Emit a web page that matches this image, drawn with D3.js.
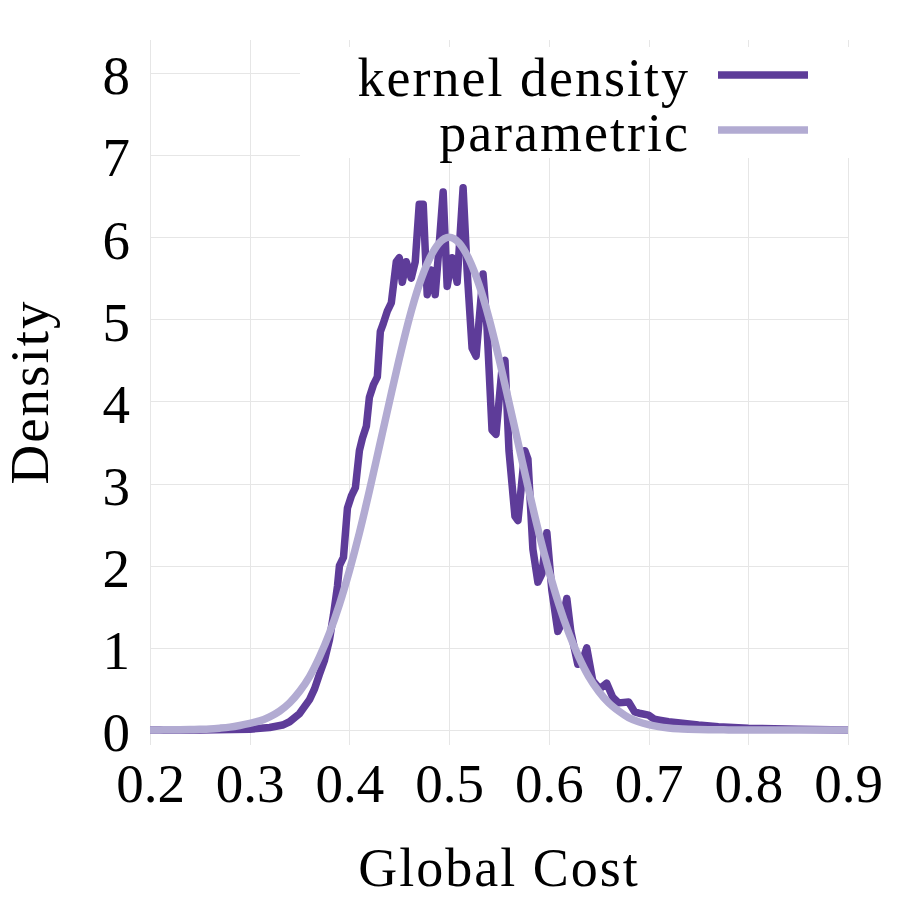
<!DOCTYPE html>
<html lang="en">
  <head>
    <meta charset="utf-8" />
    <title>Global Cost density</title>
    <script src="https://d3js.org/d3.v7.min.js"></script>
    <style>
     body {
       margin: 0;
       background: white;
     }
     text {
       font-family: "Liberation Serif", "DejaVu Serif", serif;
       fill: black;
     }
    </style>
  </head>
  <body>
    <div id="chart"></div>

    <script>

     // kernel density estimate
     var kdeX = [0.20, 0.25, 0.30, 0.32, 0.333, 0.34, 0.35, 0.36, 0.365, 0.37, 0.375, 0.38, 0.384, 0.388, 0.39, 0.394,
                 0.398, 0.402, 0.406, 0.41, 0.413, 0.417, 0.42, 0.424, 0.428, 0.431, 0.434, 0.438, 0.442, 0.447,
                 0.450, 0.453, 0.457, 0.462, 0.466, 0.470, 0.474, 0.478, 0.482, 0.486, 0.490, 0.494, 0.498, 0.503,
                 0.508, 0.514, 0.518, 0.523, 0.527, 0.534, 0.538, 0.543, 0.547, 0.553, 0.556, 0.560, 0.566, 0.569,
                 0.576, 0.579, 0.584, 0.589, 0.593, 0.598, 0.603, 0.609, 0.613, 0.618, 0.622, 0.629, 0.634, 0.638,
                 0.644, 0.651, 0.658, 0.664, 0.670, 0.680, 0.686, 0.692, 0.700, 0.706, 0.711, 0.720, 0.750, 0.770, 0.800, 0.850, 0.900];
     var kdeY = [0.00, 0.00, 0.01, 0.03, 0.06, 0.10, 0.20, 0.37, 0.50, 0.68, 0.85, 1.10, 1.40, 1.75, 2.00, 2.10,
                 2.70, 2.85, 2.95, 3.40, 3.55, 3.70, 4.05, 4.20, 4.30, 4.85, 4.95, 5.10, 5.20, 5.70,
                 5.75, 5.45, 5.70, 5.50, 5.70, 6.40, 6.40, 5.30, 5.60, 5.30, 5.90, 6.55, 5.40, 5.75,
                 5.45, 6.60, 5.60, 4.65, 4.55, 5.55, 4.90, 3.65, 3.60, 4.40, 4.50, 3.40, 2.60, 2.55,
                 3.40, 3.30, 2.20, 1.80, 1.90, 2.40, 1.70, 1.20, 1.30, 1.60, 1.20, 0.80, 0.85, 1.00,
                 0.60, 0.50, 0.57, 0.40, 0.33, 0.34, 0.22, 0.20, 0.18, 0.13, 0.12, 0.10, 0.06, 0.04, 0.02, 0.01, 0.00];

     // fitted parametric density
     var paramX = [0.20, 0.21, 0.22, 0.23, 0.24, 0.25, 0.26, 0.27, 0.28, 0.29, 0.30, 0.31, 0.32, 0.33, 0.34,
                   0.35, 0.36, 0.37, 0.38, 0.39, 0.40, 0.41, 0.42, 0.43, 0.44, 0.45, 0.46, 0.47, 0.48, 0.49,
                   0.50, 0.51, 0.52, 0.53, 0.54, 0.55, 0.56, 0.57, 0.58, 0.59, 0.60, 0.61, 0.62, 0.63, 0.64,
                   0.65, 0.66, 0.67, 0.68, 0.69, 0.70, 0.71, 0.72, 0.73, 0.74, 0.75, 0.76, 0.77, 0.78, 0.79,
                   0.80, 0.82, 0.84, 0.86, 0.88, 0.90];
     var paramY = [0.000, 0.001, 0.002, 0.004, 0.006, 0.008, 0.012, 0.022, 0.035, 0.055, 0.080, 0.110, 0.160, 0.230, 0.330,
                   0.470, 0.650, 0.890, 1.180, 1.530, 1.940, 2.400, 2.910, 3.450, 3.990, 4.520, 5.010, 5.420, 5.730, 5.930,
                   6.000, 5.930, 5.730, 5.420, 5.010, 4.520, 3.990, 3.450, 2.910, 2.400, 1.940, 1.530, 1.180, 0.890, 0.650,
                   0.470, 0.330, 0.230, 0.150, 0.100, 0.065, 0.041, 0.025, 0.015, 0.009, 0.005, 0.003, 0.002, 0.001, 0.000,
                   0.000, 0.000, 0.000, 0.000, 0.000, 0.000];

     var xTicks = [0.2, 0.3, 0.4, 0.5, 0.6, 0.7, 0.8, 0.9];
     var yTicks = [0, 1, 2, 3, 4, 5, 6, 7, 8];

     var series = [
       {name: "kernel density", xs: kdeX, ys: kdeY, color: "#5e3c99", curve: d3.curveLinear},
       {name: "parametric", xs: paramX, ys: paramY, color: "#b2abd2", curve: d3.curveMonotoneX}
     ];

     var width = 900, height = 900;
     var plotLeft = 150, plotRight = 848, plotTop = 40, plotBottom = 745;

     var x = d3.scaleLinear().domain([0.2, 0.9]).range([plotLeft, plotRight]);
     var y = d3.scaleLinear().domain([-0.183, 8.4]).range([plotBottom, plotTop]);

     var svg = d3.select("#chart")
                 .append("svg")
                 .attr("width", width)
                 .attr("height", height);

     // grid
     var grid = svg.append("g").attr("stroke", "#e6e6e6").attr("stroke-width", 1);
     grid.selectAll(".vg").data(xTicks).enter().append("line")
         .attr("x1", function(d) { return Math.round(x(d)) + 0.5; })
         .attr("x2", function(d) { return Math.round(x(d)) + 0.5; })
         .attr("y1", plotTop).attr("y2", plotBottom);
     grid.selectAll(".hg").data(yTicks).enter().append("line")
         .attr("y1", function(d) { return Math.round(y(d)) + 0.5; })
         .attr("y2", function(d) { return Math.round(y(d)) + 0.5; })
         .attr("x1", plotLeft).attr("x2", plotRight);

     // axes (labels only, no domain or ticks)
     var xAxis = svg.append("g")
        .attr("transform", "translate(0," + (plotBottom + 6) + ")")
        .call(d3.axisBottom(x).tickValues(xTicks).tickSize(0).tickPadding(0).tickFormat(d3.format(".1f")));
     xAxis.select(".domain").remove();
     xAxis.selectAll("text")
        .attr("font-family", "Liberation Serif")
        .attr("font-size", 55)
        .attr("fill", "black")
        .attr("dy", "0.93em");

     var yAxis = svg.append("g")
        .attr("transform", "translate(" + (plotLeft - 20) + ",0)")
        .call(d3.axisLeft(y).tickValues(yTicks).tickSize(0).tickPadding(0).tickFormat(d3.format("d")));
     yAxis.select(".domain").remove();
     yAxis.selectAll("text")
        .attr("font-family", "Liberation Serif")
        .attr("font-size", 55)
        .attr("fill", "black")
        .attr("dy", "0.38em");

     svg.append("text")
        .attr("x", (plotLeft + plotRight) / 2)
        .attr("y", 886)
        .attr("text-anchor", "middle")
        .attr("font-size", 54)
        .attr("letter-spacing", 2)
        .text("Global Cost");

     svg.append("text")
        .attr("transform", "translate(48,392) rotate(-90)")
        .attr("text-anchor", "middle")
        .attr("font-size", 55)
        .attr("letter-spacing", 2)
        .text("Density");

     // curves
     svg.selectAll(".series").data(series).enter().append("path")
        .attr("fill", "none")
        .attr("stroke", function(d) { return d.color; })
        .attr("stroke-width", 7.5)
        .attr("stroke-linejoin", "round")
        .attr("d", function(s) {
          var line = d3.line()
                       .x(function(d, i) { return x(s.xs[i]); })
                       .y(function(d, i) { return y(s.ys[i]); })
                       .curve(s.curve);
          return line(s.xs);
        });

     // legend
     var legend = svg.append("g");
     legend.append("rect")
        .attr("x", 300).attr("y", 47)
        .attr("width", plotRight - 300 + 1).attr("height", 111)
        .attr("fill", "white");
     var items = legend.selectAll(".item").data(series).enter().append("g")
        .attr("transform", function(d, i) { return "translate(0," + (75 + i * 55) + ")"; });
     items.append("line")
        .attr("x1", 718).attr("x2", 808)
        .attr("stroke", function(d) { return d.color; })
        .attr("stroke-width", 7.5);
     items.append("text")
        .attr("x", 690)
        .attr("y", 21)
        .attr("text-anchor", "end")
        .attr("font-size", 54)
        .attr("letter-spacing", 2)
        .text(function(d) { return d.name; });

    </script>
  </body>
</html>
